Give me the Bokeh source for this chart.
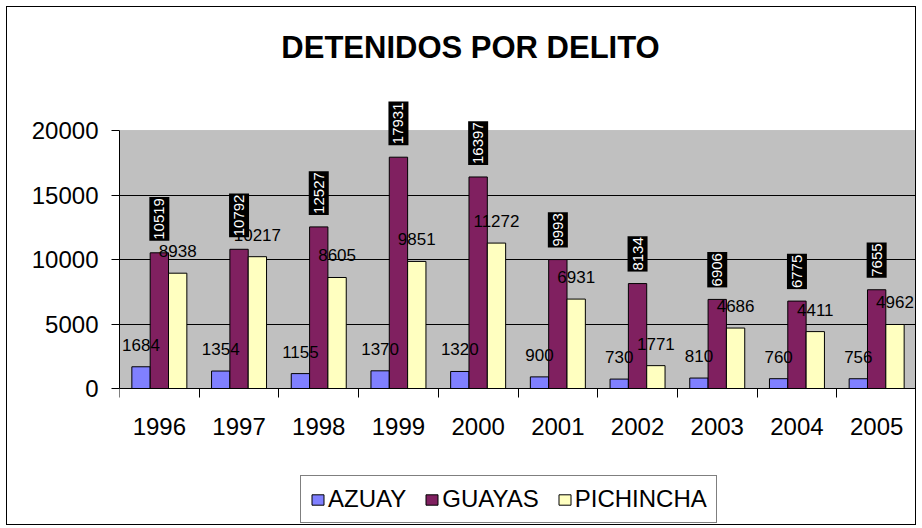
import math
from bokeh.plotting import figure
from bokeh.models import Range1d, FixedTicker, Label, BoxAnnotation
from bokeh.core.properties import value
from bokeh.embed import file_html
from bokeh.resources import INLINE

years = ["1996", "1997", "1998", "1999", "2000", "2001", "2002", "2003", "2004", "2005"]
azuay = [1684, 1354, 1155, 1370, 1320, 900, 730, 810, 760, 756]
guayas = [10519, 10792, 12527, 17931, 16397, 9993, 8134, 6906, 6775, 7655]
pichincha = [8938, 10217, 8605, 9851, 11272, 6931, 1771, 4686, 4411, 4962]
series_names = ["AZUAY", "GUAYAS", "PICHINCHA"]
y_ticks = [0, 5000, 10000, 15000, 20000]
Y_MAX_VAL = 20000

FONT = "Liberation Sans"
C_AZ = "#8080FF"
C_GU = "#802060"
C_PI = "#FFFFC0"

# layout (pixels inside the figure)
W, H = 910, 519
LEFT, RIGHT = 112, 1
TOP_PX = 123      # pixel row of the 20000 line
ZERO_PX = 381     # pixel row of the 0 line
upp = Y_MAX_VAL / (ZERO_PX - TOP_PX)
y_hi = Y_MAX_VAL + TOP_PX * upp
y_lo = -(H - ZERO_PX) * upp

p = figure(width=W, height=H, output_backend="svg", toolbar_location=None,
           x_range=Range1d(0, len(years)), y_range=Range1d(y_lo, y_hi),
           min_border_left=LEFT, min_border_right=RIGHT, min_border_top=0,
           min_border_bottom=0)
p.title.visible = False
p.styles = {"border": "1px solid #000000", "margin": "6px 0px 0px 6px"}
p.background_fill_color = "white"
p.border_fill_color = "white"
p.outline_line_color = None

# plot area (grey box)
p.add_layout(BoxAnnotation(left=0, right=len(years), bottom=0, top=Y_MAX_VAL,
                           fill_color="#C0C0C0", fill_alpha=1.0,
                           line_color="#808080", line_width=1, level="image"))

idx = list(range(len(years)))
w = 0.23
xa = [i + 0.5 - w for i in idx]
xg = [i + 0.5 for i in idx]
xp = [i + 0.5 + w for i in idx]

for xs, vals, col, name in ((xa, azuay, C_AZ, series_names[0]),
                            (xg, guayas, C_GU, series_names[1]),
                            (xp, pichincha, C_PI, series_names[2])):
    p.vbar(x=xs, top=vals, width=w, fill_color=col, line_color="black",
           line_width=1, legend_label=name)

# horizontal value labels
for xs, vals in ((xa, azuay), (xp, pichincha)):
    p.text(x=xs, y=vals, text=[str(v) for v in vals], text_align="center",
           text_baseline="middle", y_offset=-22, text_font=value(FONT),
           text_font_size="17px", text_color="black")

# rotated GUAYAS labels on black boxes
p.text(x=xg, y=guayas, text=[str(v) for v in guayas], angle=math.pi / 2,
       text_align="left", text_baseline="middle", y_offset=-12,
       text_font=value(FONT), text_font_size="15px", text_color="white",
       background_fill_color="black", padding=(1, 5))

# grid
p.xgrid.visible = False
p.ygrid.ticker = FixedTicker(ticks=[5000, 10000, 15000])
p.ygrid.grid_line_color = "black"
p.ygrid.grid_line_width = 1

# y axis
p.yaxis.ticker = FixedTicker(ticks=y_ticks)
p.yaxis.bounds = (0, Y_MAX_VAL)
p.yaxis.major_tick_out = 8
p.yaxis.major_tick_in = 0
p.yaxis.minor_tick_out = 0
p.yaxis.minor_tick_in = 0
p.yaxis.major_label_standoff = 13
p.yaxis.major_label_text_font = FONT
p.yaxis.major_label_text_font_size = "24px"
p.yaxis.major_label_text_color = "black"
p.yaxis.axis_line_color = "black"
p.yaxis.major_tick_line_color = "black"

# x axis at y = 0: labels at centers, tick marks at category boundaries
p.xaxis.fixed_location = 0
p.xaxis.ticker = FixedTicker(ticks=[i + 0.5 for i in idx], minor_ticks=list(range(len(years) + 1)))
p.xaxis.major_label_overrides = {i + 0.5: years[i] for i in idx}
p.xaxis.major_tick_out = 0
p.xaxis.major_tick_in = 0
p.xaxis.minor_tick_out = 9
p.xaxis.minor_tick_in = 0
p.xaxis.minor_tick_line_color = "black"
p.xaxis.axis_line_color = "black"
p.xaxis.major_label_standoff = 20
p.xaxis.major_label_text_font = FONT
p.xaxis.major_label_text_font_size = "24px"
p.xaxis.major_label_text_color = "black"

# title (inside the frame, screen units from the frame's bottom-left)
p.add_layout(Label(x=351, y=H - 40, x_units="screen", y_units="screen",
                   text="DETENIDOS POR DELITO", text_align="center",
                   text_baseline="middle", text_font=FONT, text_font_size="31px",
                   text_font_style="bold", text_color="black"))

# legend
leg = p.legend[0]
leg.orientation = "horizontal"
leg.location = (181, 3)
leg.margin = 0
leg.border_line_color = "black"
leg.border_line_width = 1
leg.background_fill_color = "white"
leg.background_fill_alpha = 1.0
leg.label_text_font = FONT
leg.label_text_font_size = "24px"
leg.label_text_color = "black"
leg.glyph_width = 15
leg.glyph_height = 13
leg.spacing = 18
leg.padding = 9
leg.label_standoff = 3

open("out.html", "w").write(file_html(p, INLINE))
